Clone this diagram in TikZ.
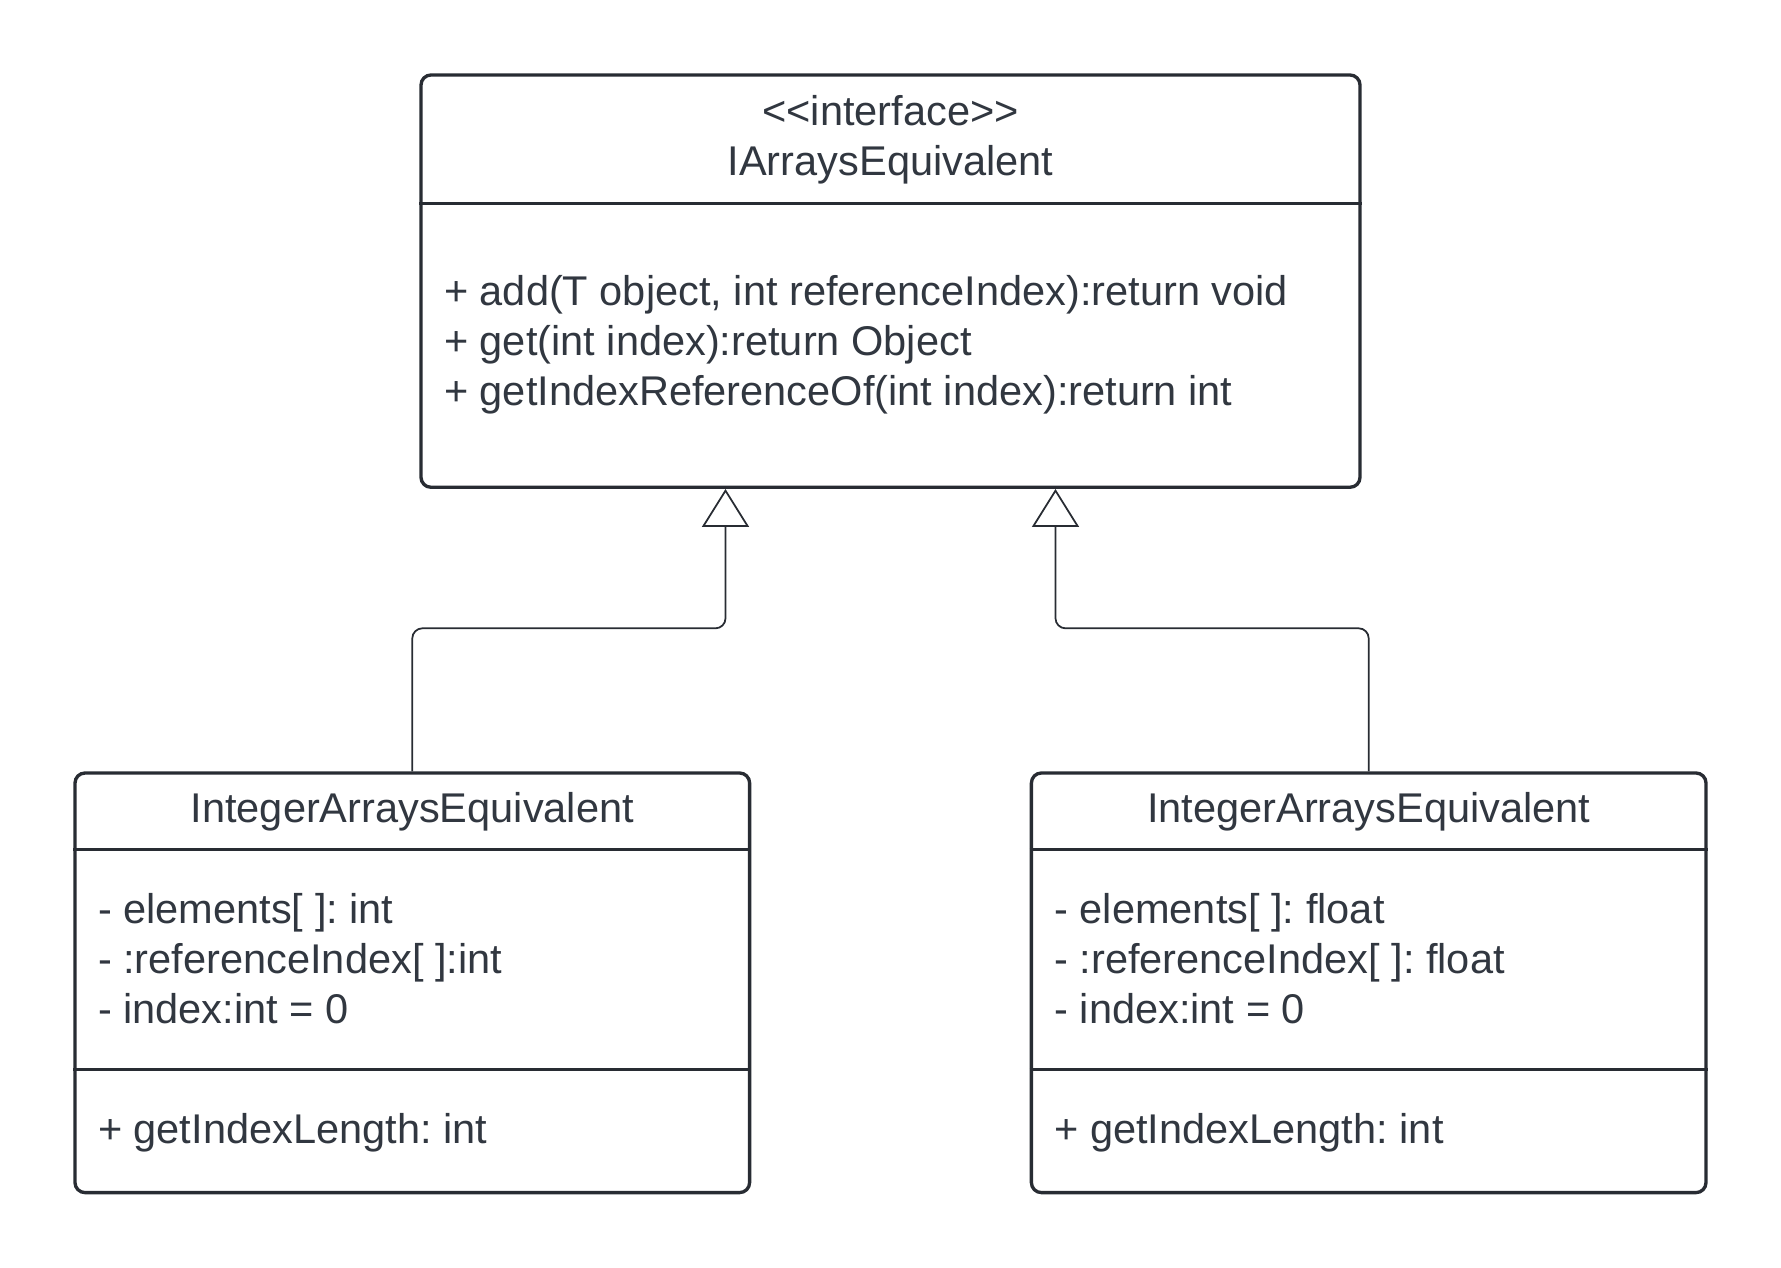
\documentclass[tikz,border=0pt]{standalone}
\usepackage{fontspec}
\setmainfont{Liberation Sans}
\usepackage{xcolor}
\usepackage{tikz}
\usetikzlibrary{arrows.meta, positioning, calc}

\definecolor{ink}{HTML}{282C33}
\definecolor{inktext}{HTML}{313740}
\frenchspacing

\begin{document}
\begin{tikzpicture}[
    umlbox/.style={rectangle, draw=ink, line width=0.95pt, rounded corners=0.1cm, fill=white},
    sepline/.style={draw=ink, line width=0.95pt},
    txt/.style={font=\fontsize{11.82}{14.2}\selectfont, text=inktext, inner sep=0pt, align=left},
    inh/.style={-{Triangle[open, length=0.38cm, width=0.47cm, line width=0.5pt]}, line width=0.5pt, draw=ink, rounded corners=0.1cm}
]
\useasboundingbox (0,0) rectangle (17.81,-12.68);
% interface
\node[umlbox, minimum width=9.39cm, minimum height=4.123cm] (iface) at (8.905,-2.8115) {};
\draw[sepline] ([yshift=-1.30cm]iface.north west) -- ([yshift=-1.30cm]iface.north east);
\node[txt, align=center] (ifname) at ($(iface.north)+(0,-0.665)$) {{<}{<}interface{>}{>}\\IArraysEquivalent};
\node[txt, anchor=west] (ifops) at ($(iface.north west)+(0.24,-2.715)$) {+ add(T object, int referenceIndex):return void\\+ get(int index):return Object\\+ getIndexReferenceOf(int index):return int};
% implementations
\node[umlbox, minimum width=6.746cm, minimum height=4.196cm] (intcls) at (4.123,-9.828) {};
\node[umlbox, minimum width=6.746cm, minimum height=4.196cm] (fltcls) at (13.687,-9.828) {};
\foreach \c in {intcls, fltcls} {
  \draw[sepline] ([yshift=-0.78cm]\c.north west) -- ([yshift=-0.78cm]\c.north east);
  \draw[sepline] ([yshift=-2.981cm]\c.north west) -- ([yshift=-2.981cm]\c.north east);
  \node[txt] (\c-name) at ($(\c.north)+(0,-0.405)$) {IntegerArraysEquivalent};
  \node[txt, anchor=west] (\c-ops) at ($(\c.north west)+(0.24,-3.61)$) {+ getIndexLength: int};
}
\node[txt, anchor=west] (intcls-attr) at ($(intcls.north west)+(0.24,-1.87)$) {- elements[ ]: int\\- :referenceIndex[ ]:int\\- index:int = 0};
\node[txt, anchor=west] (fltcls-attr) at ($(fltcls.north west)+(0.24,-1.87)$) {- elements[ ]: float\\- :referenceIndex[ ]: float\\- index:int = 0};
% generalisation
\coordinate (lup) at ($(iface.south)+(-1.65,0)$);
\coordinate (rup) at ($(iface.south)+(1.65,0)$);
\draw[inh] (intcls.north) -- ++(0,1.43) -| (lup);
\draw[inh] (fltcls.north) -- ++(0,1.43) -| (rup);
\end{tikzpicture}
\end{document}
